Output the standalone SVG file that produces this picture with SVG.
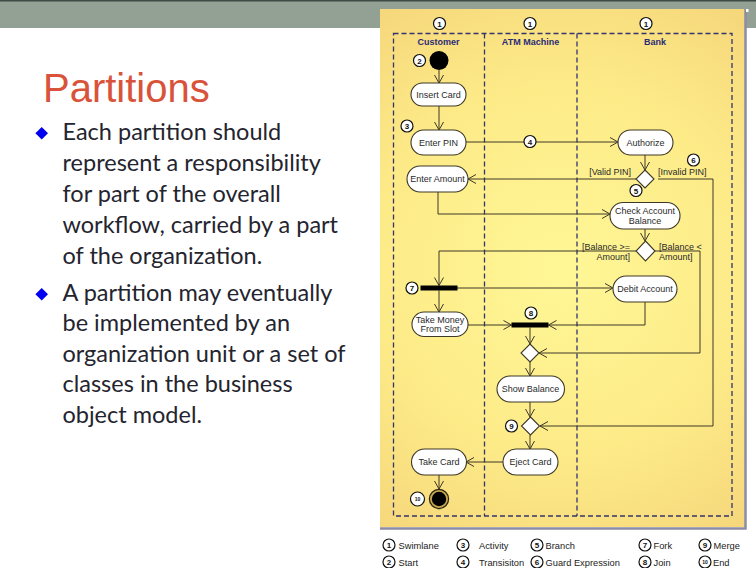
<svg xmlns="http://www.w3.org/2000/svg" width="756" height="568" viewBox="0 0 756 568">
  <defs>
    <radialGradient id="paper" cx="560" cy="270" r="330" gradientUnits="userSpaceOnUse">
      <stop offset="0" stop-color="#FFF796"/>
      <stop offset="0.55" stop-color="#FDEB88"/>
      <stop offset="1" stop-color="#F5D57A"/>
    </radialGradient>
    <marker id="arrow" markerUnits="userSpaceOnUse" markerWidth="12" markerHeight="12" viewBox="-10 -6 12 12" refX="0" refY="0" orient="auto">
      <path d="M-8,-4.5 L0,0 L-8,4.5" fill="none" stroke="#3E3828" stroke-width="1"/>
    </marker>
    <style>
      .title { font-family: "Liberation Sans", Arial, sans-serif; font-size: 40px; fill: #D9533A; }
      .body { font-family: Lato, "Liberation Sans", sans-serif; font-size: 23.5px; fill: #24242E; }
      .bullet { fill: #0000F0; }
      .lane { fill: none; stroke: #33336E; stroke-width: 1.3; stroke-dasharray: 5 3; }
      .lanehead { font-family: "Liberation Sans", Arial, sans-serif; font-size: 9px; font-weight: bold; fill: #2B2B78; text-anchor: middle; }
      .act rect { fill: #FFFFFF; stroke: #3E3828; stroke-width: 1.1; }
      .act text { font-family: "Liberation Sans", Arial, sans-serif; font-size: 9px; fill: #2A2A2A; text-anchor: middle; }
      .dia { fill: #FFFFFF; stroke: #3E3828; stroke-width: 1.1; }
      .bar { fill: #000000; }
      .edge { fill: none; stroke: #3E3828; stroke-width: 1; marker-end: url(#arrow); }
      .guard { font-family: "Liberation Sans", Arial, sans-serif; font-size: 9px; fill: #2A2A2A; }
      .num circle { fill: #FFFFFF; stroke: #111111; stroke-width: 1.2; }
      .num text { font-family: "Liberation Sans", Arial, sans-serif; font-size: 8px; font-weight: bold; fill: #111111; text-anchor: middle; }
      .num text.small { font-size: 5px; }
      .legend { font-family: "Liberation Sans", Arial, sans-serif; font-size: 9.3px; fill: #222222; }
    </style>
  </defs>

  <!-- page background and header band -->
  <rect x="0" y="0" width="756" height="568" fill="#FFFFFF"/>
  <rect x="0" y="0" width="756" height="28" fill="#93A195"/>
  <rect x="0" y="0" width="756" height="1.5" fill="#3E4A44"/>

  <!-- slide text -->
  <text class="title" x="43" y="102">Partitions</text>
  <path class="bullet" d="M41.7,127 L48,133.3 L41.7,139.6 L35.4,133.3 Z"/>
  <path class="bullet" d="M41.7,288 L48,294.3 L41.7,300.6 L35.4,294.3 Z"/>
  <text class="body" x="62.5" y="140">Each partition should</text>
  <text class="body" x="62.5" y="171">represent a responsibility</text>
  <text class="body" x="62.5" y="202">for part of the overall</text>
  <text class="body" x="62.5" y="233">workflow, carried by a part</text>
  <text class="body" x="62.5" y="263.5">of the organization.</text>
  <text class="body" x="62.5" y="301">A partition may eventually</text>
  <text class="body" x="62.5" y="331">be implemented by an</text>
  <text class="body" x="62.5" y="362">organization unit or a set of</text>
  <text class="body" x="62.5" y="392">classes in the business</text>
  <text class="body" x="62.5" y="422.5">object model.</text>

  <!-- diagram sheet -->
  <rect x="380" y="9" width="365" height="518" fill="url(#paper)"/>
  <path d="M745.5,9 L745.5,528.5 L380,528.5" fill="none" stroke="#8C8CA4" stroke-width="2.5"/>
  <rect x="746" y="9" width="2.5" height="3" fill="#FFFFFF"/>

  <!-- swimlanes -->
  <g id="lanes">
    <rect class="lane" x="393.5" y="33.5" width="338.5" height="482.5"/>
    <line class="lane" x1="484.5" y1="33.5" x2="484.5" y2="516"/>
    <line class="lane" x1="577" y1="33.5" x2="577" y2="516"/>
    <text class="lanehead" x="438.5" y="45">Customer</text>
    <text class="lanehead" x="530.5" y="45">ATM Machine</text>
    <text class="lanehead" x="655" y="45">Bank</text>
  </g>

  <!-- connectors -->
  <g id="connectors">
    <path class="edge" d="M439,70 L439,83"/>
    <path class="edge" d="M439,106 L439,130"/>
    <path class="edge" d="M466,142 L618,142"/>
    <path class="edge" d="M645,155 L645,170"/>
    <path class="edge" d="M636,179 L468,179"/>
    <path class="edge" d="M658,179 L713,179 L713,426 L540,426"/>
    <path class="edge" d="M438,192 L438,214 L610,214"/>
    <path class="edge" d="M645,229 L645,241"/>
    <path class="edge" d="M636,251 L439,251 L439,285.5"/>
    <path class="edge" d="M655,251 L700,251 L700,353 L539,353"/>
    <path class="edge" d="M457,288 L613,288"/>
    <path class="edge" d="M439,290.5 L439,312"/>
    <path class="edge" d="M468,325 L511.5,325"/>
    <path class="edge" d="M645,302 L645,325 L548.5,325"/>
    <path class="edge" d="M530,327.5 L530,344"/>
    <path class="edge" d="M530,362 L530,376"/>
    <path class="edge" d="M530,402 L530,417"/>
    <path class="edge" d="M530,435 L530,449"/>
    <path class="edge" d="M503,462 L466,462"/>
    <path class="edge" d="M439,475 L439,489"/>
  </g>

  <!-- guard labels -->
  <g id="guards">
    <text class="guard" x="631" y="175" text-anchor="end">[Valid PIN]</text>
    <text class="guard" x="658" y="175">[Invalid PIN]</text>
    <text class="guard" x="630" y="249.5" text-anchor="end">[Balance &gt;=</text>
    <text class="guard" x="630" y="259.5" text-anchor="end">Amount]</text>
    <text class="guard" x="659" y="249.5">[Balance &lt;</text>
    <text class="guard" x="659" y="259.5">Amount]</text>
  </g>

  <!-- nodes -->
  <g id="start"><circle cx="439" cy="60.5" r="9.5" fill="#000000"/></g>
  <g id="insert-card" class="act">
    <rect x="411" y="83" width="55" height="23" rx="11.5"/>
    <text x="438.5" y="97.5">Insert Card</text>
  </g>
  <g id="enter-pin" class="act">
    <rect x="411" y="130" width="55" height="25" rx="12.5"/>
    <text x="438.5" y="145.5">Enter PIN</text>
  </g>
  <g id="authorize" class="act">
    <rect x="618" y="130" width="55" height="25" rx="12.5"/>
    <text x="645.5" y="145.5">Authorize</text>
  </g>
  <g id="pin-branch"><path class="dia" d="M645,170 L654,179 L645,188 L636,179 Z"/></g>
  <g id="enter-amount" class="act">
    <rect x="407" y="166" width="61" height="26" rx="13"/>
    <text x="437.5" y="182">Enter Amount</text>
  </g>
  <g id="check-balance" class="act">
    <rect x="610" y="202.5" width="70" height="26.5" rx="13"/>
    <text x="645" y="214">Check Account</text>
    <text x="645" y="223.5">Balance</text>
  </g>
  <g id="balance-branch"><path class="dia" d="M645.5,241 L655,251 L645.5,261 L636,251 Z"/></g>
  <g id="fork"><rect class="bar" x="420.5" y="285.5" width="37" height="5"/></g>
  <g id="debit-account" class="act">
    <rect x="613" y="276" width="64" height="26" rx="13"/>
    <text x="645" y="291.5">Debit Account</text>
  </g>
  <g id="take-money" class="act">
    <rect x="412" y="312" width="56" height="24.5" rx="12"/>
    <text x="440" y="322.5">Take Money</text>
    <text x="440" y="332">From Slot</text>
  </g>
  <g id="join"><rect class="bar" x="511.5" y="322.5" width="37" height="5"/></g>
  <g id="balance-merge"><path class="dia" d="M530,344 L539,353 L530,362 L521,353 Z"/></g>
  <g id="show-balance" class="act">
    <rect x="497" y="376" width="67.5" height="26" rx="13"/>
    <text x="530.5" y="392">Show Balance</text>
  </g>
  <g id="exit-merge"><path class="dia" d="M530.5,417 L539.5,426 L530.5,435 L521.5,426 Z"/></g>
  <g id="eject-card" class="act">
    <rect x="503" y="449" width="55" height="26" rx="13"/>
    <text x="530.5" y="465">Eject Card</text>
  </g>
  <g id="take-card" class="act">
    <rect x="411.5" y="449" width="55" height="26" rx="13"/>
    <text x="439" y="465">Take Card</text>
  </g>
  <g id="end">
    <circle cx="439" cy="499" r="9.6" fill="#C8A850" stroke="#2A2410" stroke-width="1.2"/>
    <circle cx="439" cy="499" r="7.2" fill="#000000"/>
  </g>

  <!-- numbered callouts -->
  <g id="callouts">
    <g class="num"><circle cx="439.5" cy="23.5" r="6"/><text x="439.5" y="26.5">1</text></g>
    <g class="num"><circle cx="530" cy="23.5" r="6"/><text x="530" y="26.5">1</text></g>
    <g class="num"><circle cx="646" cy="23.5" r="6"/><text x="646" y="26.5">1</text></g>
    <g class="num"><circle cx="419.5" cy="60.5" r="6"/><text x="419.5" y="63.5">2</text></g>
    <g class="num"><circle cx="407" cy="126" r="6"/><text x="407" y="129">3</text></g>
    <g class="num"><circle cx="530" cy="141.5" r="6"/><text x="530" y="144.5">4</text></g>
    <g class="num"><circle cx="693.5" cy="160" r="6"/><text x="693.5" y="163">6</text></g>
    <g class="num"><circle cx="636" cy="190.5" r="6"/><text x="636" y="193.5">5</text></g>
    <g class="num"><circle cx="412" cy="288" r="6"/><text x="412" y="291">7</text></g>
    <g class="num"><circle cx="531" cy="313" r="6"/><text x="531" y="316">8</text></g>
    <g class="num"><circle cx="511.5" cy="426" r="6"/><text x="511.5" y="429">9</text></g>
    <g class="num"><circle cx="417.5" cy="499" r="7"/><text class="small" x="417.5" y="501">10</text></g>
  </g>

  <!-- legend -->
  <g id="legend">
    <g class="num"><circle cx="389" cy="545" r="6"/><text x="389" y="548">1</text></g>
    <text class="legend" x="398.5" y="548.5">Swimlane</text>
    <g class="num"><circle cx="389" cy="562" r="6"/><text x="389" y="565">2</text></g>
    <text class="legend" x="398.5" y="565.5">Start</text>
    <g class="num"><circle cx="463" cy="545" r="6"/><text x="463" y="548">3</text></g>
    <text class="legend" x="479" y="548.5">Activity</text>
    <g class="num"><circle cx="463" cy="562" r="6"/><text x="463" y="565">4</text></g>
    <text class="legend" x="479" y="565.5">Transisiton</text>
    <g class="num"><circle cx="537" cy="545" r="6"/><text x="537" y="548">5</text></g>
    <text class="legend" x="545.5" y="548.5">Branch</text>
    <g class="num"><circle cx="537" cy="562" r="6"/><text x="537" y="565">6</text></g>
    <text class="legend" x="545.5" y="565.5">Guard Expression</text>
    <g class="num"><circle cx="645" cy="545" r="6"/><text x="645" y="548">7</text></g>
    <text class="legend" x="653.5" y="548.5">Fork</text>
    <g class="num"><circle cx="645" cy="562" r="6"/><text x="645" y="565">8</text></g>
    <text class="legend" x="653.5" y="565.5">Join</text>
    <g class="num"><circle cx="705" cy="545" r="6"/><text x="705" y="548">9</text></g>
    <text class="legend" x="713.5" y="548.5">Merge</text>
    <g class="num"><circle cx="705" cy="562" r="6"/><text class="small" x="705" y="564">10</text></g>
    <text class="legend" x="713" y="565.5">End</text>
  </g>
</svg>
